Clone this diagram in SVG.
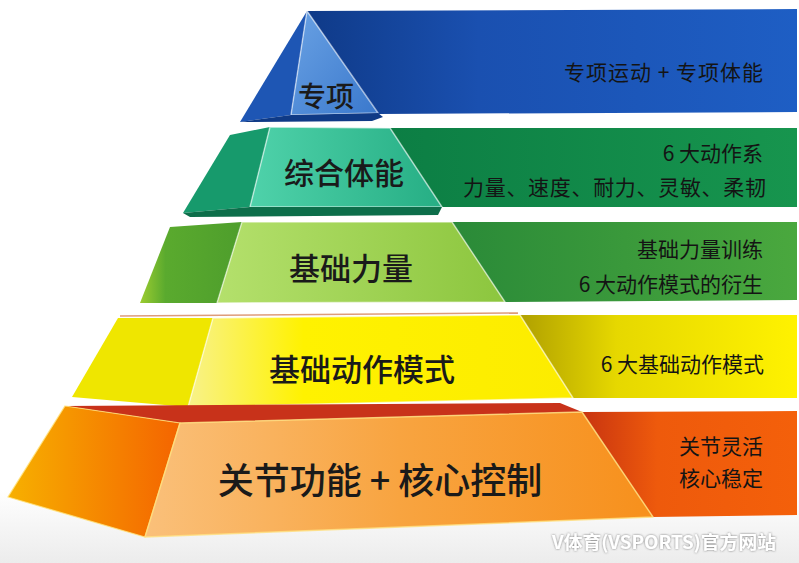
<svg xmlns="http://www.w3.org/2000/svg" width="799" height="563" viewBox="0 0 799 563">
<defs>
<style>
.lbl{font-family:"Noto Sans CJK SC","Noto Sans",sans-serif;fill:#1a1a1a;text-anchor:middle;dominant-baseline:central;font-weight:500}
.rt{font-family:"Noto Sans CJK SC","Noto Sans",sans-serif;fill:#141414;text-anchor:end;dominant-baseline:central;font-size:21px}
.edge{stroke:#ffffff;stroke-opacity:0.55;stroke-width:1.5;stroke-linejoin:round}
</style>
<linearGradient id="gBlueBan" x1="0" y1="0" x2="1" y2="0"><stop offset="0" stop-color="#0f3a88"/><stop offset="0.35" stop-color="#1a50b0"/><stop offset="1" stop-color="#1e5ec4"/></linearGradient>
<linearGradient id="gBlueFront" x1="0" y1="0" x2="1" y2="1"><stop offset="0" stop-color="#6aa2e4"/><stop offset="1" stop-color="#3a78cc"/></linearGradient>
<linearGradient id="gTealBan" x1="0" y1="0" x2="1" y2="0"><stop offset="0" stop-color="#0c7e44"/><stop offset="1" stop-color="#17954e"/></linearGradient>
<linearGradient id="gTealFront" x1="0" y1="0" x2="1" y2="0"><stop offset="0" stop-color="#4fd2aa"/><stop offset="1" stop-color="#26ae84"/></linearGradient>
<linearGradient id="gLimeBan" x1="0" y1="0" x2="1" y2="0"><stop offset="0" stop-color="#2a8a38"/><stop offset="1" stop-color="#4aa83e"/></linearGradient>
<linearGradient id="gLimeFront" x1="0" y1="0" x2="1" y2="0"><stop offset="0" stop-color="#b4e06c"/><stop offset="1" stop-color="#8cc63e"/></linearGradient>
<linearGradient id="gLimeLeft" x1="0" y1="0" x2="1" y2="0"><stop offset="0" stop-color="#9ccc30"/><stop offset="0.25" stop-color="#5aaa2e"/><stop offset="1" stop-color="#4e9e2c"/></linearGradient>
<linearGradient id="gYelBan" x1="0" y1="0" x2="1" y2="0"><stop offset="0" stop-color="#b0a000"/><stop offset="0.35" stop-color="#e6d800"/><stop offset="1" stop-color="#fff200"/></linearGradient>
<linearGradient id="gYelFront" x1="0" y1="0" x2="1" y2="0"><stop offset="0" stop-color="#f8f28a"/><stop offset="0.3" stop-color="#fff200"/><stop offset="1" stop-color="#fcec00"/></linearGradient>
<linearGradient id="gOrBan" x1="0" y1="0" x2="1" y2="0"><stop offset="0" stop-color="#c83410"/><stop offset="0.35" stop-color="#ee5a0c"/><stop offset="1" stop-color="#f4600a"/></linearGradient>
<linearGradient id="gOrFront" x1="0" y1="0" x2="1" y2="0"><stop offset="0" stop-color="#fac07a"/><stop offset="0.5" stop-color="#f8a440"/><stop offset="1" stop-color="#f7901c"/></linearGradient>
<linearGradient id="gOrLeft" x1="0" y1="0" x2="1" y2="0"><stop offset="0" stop-color="#f7b000"/><stop offset="1" stop-color="#f46400"/></linearGradient>
<linearGradient id="gFloor" x1="0" y1="0" x2="0" y2="1"><stop offset="0" stop-color="#ffffff"/><stop offset="1" stop-color="#ececec"/></linearGradient>
<filter id="shadow" x="-10%" y="-30%" width="120%" height="160%"><feDropShadow dx="0" dy="0" stdDeviation="1" flood-color="#555555" flood-opacity="0.8"/></filter>
</defs>
<rect width="799" height="563" fill="#ffffff"/>
<rect x="0" y="490" width="799" height="73" fill="url(#gFloor)"/>

<g id="tier-zhuanxiang">
<polygon points="307,11 797,9 797,112 378,114" fill="url(#gBlueBan)"/>
<polygon points="307,11 240,122 291,115" fill="#1e56b4"/>
<polygon points="307,11 291,115 378,113" fill="url(#gBlueFront)" class="edge"/>
<polygon points="240,122 291,115 378,113 383,117 372,121" fill="#0f3a86"/>
<text class="lbl" x="326" y="95" font-size="28">专项</text>
<text class="rt" x="763" y="71" textLength="199" lengthAdjust="spacing">专项运动 + 专项体能</text>
</g>

<g id="tier-zonghe">
<polygon points="390,128 797,128 797,207 442,207" fill="url(#gTealBan)"/>
<polygon points="230,135 270,127 250,207 183,213" fill="#179a6c"/>
<polygon points="270,127 390,128 442,207 250,207" fill="url(#gTealFront)" class="edge"/>
<polygon points="183,213 250,207 442,207 438,215 190,217" fill="#0d6e4a"/>
<text class="lbl" x="344" y="171" font-size="30">综合体能</text>
<text class="rt" x="763" y="152">6 大动作系</text>
<text class="rt" x="766" y="186" textLength="303" lengthAdjust="spacing">力量、速度、耐力、灵敏、柔韧</text>
</g>

<g id="tier-jichuliliang">
<polygon points="452,222 797,222 797,300 505,302" fill="url(#gLimeBan)"/>
<polygon points="170,227 242,222 217,303 140,303" fill="url(#gLimeLeft)"/>
<polygon points="242,222 452,222 505,302 217,303" fill="url(#gLimeFront)" class="edge"/>
<text class="lbl" x="351" y="266" font-size="31">基础力量</text>
<text class="rt" x="763" y="248">基础力量训练</text>
<text class="rt" x="763" y="283">6 大动作模式的衍生</text>
</g>

<g id="tier-jichudongzuo">
<polygon points="520,315 797,315 797,398 573,398" fill="url(#gYelBan)"/>
<polygon points="118,318 213,318 188,407 72,397" fill="#efe600"/>
<polygon points="213,318 520,315 573,398 188,407" fill="url(#gYelFront)" class="edge"/>
<line x1="120" y1="316" x2="518" y2="313" stroke="#c85a20" stroke-opacity="0.6" stroke-width="1.5"/>
<text class="lbl" x="362" y="367" font-size="31">基础动作模式</text>
<text class="rt" x="764" y="363">6 大基础动作模式</text>
</g>

<g id="tier-guanjie">
<polygon points="582,412 797,411 797,515 653,517" fill="url(#gOrBan)"/>
<polygon points="65,406 560,403 582,412 180,423" fill="#c8321a"/>
<polygon points="65,406 180,423 145,537 8,497" fill="url(#gOrLeft)" stroke="#ffe27a" stroke-opacity="0.8" stroke-width="1.2"/>
<polygon points="180,423 582,412 653,517 145,537" fill="url(#gOrFront)" stroke="#ffe080" stroke-opacity="0.8" stroke-width="1.5" stroke-linejoin="round"/>
<text class="lbl" x="380" y="478" font-size="36">关节功能 + 核心控制</text>
<text class="rt" x="763" y="445">关节灵活</text>
<text class="rt" x="763" y="477">核心稳定</text>
</g>

<text x="776" y="541" font-family="'Noto Sans CJK SC','Noto Sans',sans-serif" font-size="18" font-weight="700" fill="#ffffff" text-anchor="end" dominant-baseline="central" filter="url(#shadow)" textLength="224" lengthAdjust="spacingAndGlyphs">V体育(VSPORTS)官方网站</text>
</svg>
